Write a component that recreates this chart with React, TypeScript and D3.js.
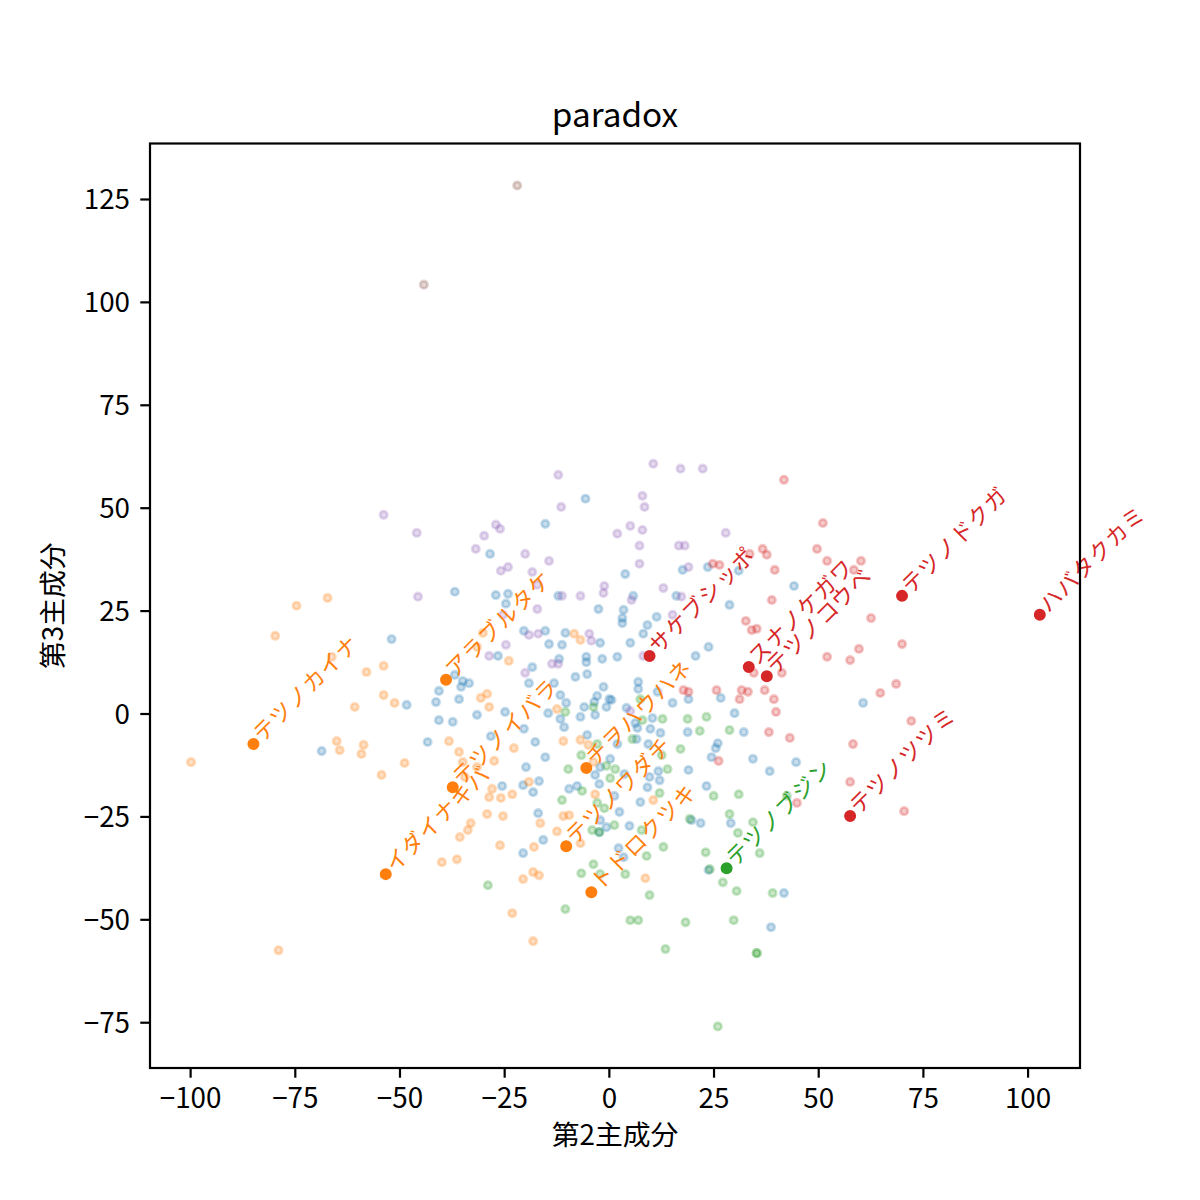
import * as d3 from "d3";

const W = 1200;
const H = 1200;
const FONT = "'Noto Sans CJK JP', 'Noto Sans', sans-serif";

const xTicks = [-100, -75, -50, -25, 0, 25, 50, 75, 100];
const yTicks = [-75, -50, -25, 0, 25, 50, 75, 100, 125];

type Pt = [number, number];

const bluePts: Pt[] = [
    [-28.5, 38.9], [-36.9, 29.7], [-27.1, 28.9], [-24.2, 29.2], [-24.7, 26.8], [-52.0, 18.2],
    [-5.7, 52.3], [-15.3, 46.2], [3.8, 34.0], [17.5, 35.0], [23.5, 35.7], [30.9, 34.8], [44.1, 31.1], [28.7, 26.5],
    [16.0, 28.7], [5.7, 28.7], [-2.6, 25.5], [3.4, 25.3], [3.1, 23.3], [3.1, 22.1], [9.1, 21.6], [11.3, 23.6],
    [8.1, 19.5], [-12.2, 28.7], [-20.4, 20.2], [-15.3, 20.2], [-10.5, 19.7], [-14.4, 17.0], [-11.3, 16.8],
    [-2.2, 17.3], [5.0, 17.3], [23.7, 16.3],
    [-26.6, 14.1], [-36.9, 9.5], [-35.0, 8.0], [-33.5, 7.5], [-35.4, 6.6], [-40.7, 5.6], [-41.4, 2.9], [-35.9, 3.6],
    [-48.4, 2.2], [-40.7, -1.5], [-37.4, -1.9], [-31.6, -0.2], [-24.9, 0.5], [-28.3, -5.4], [-43.4, -6.8],
    [-68.7, -9.0], [-25.6, -17.5],
    [-18.4, 11.4], [-19.2, 7.5], [-12.0, 13.4], [-5.5, 13.9], [-5.5, 12.6], [-1.7, 13.4], [1.9, 13.9], [-8.1, 9.0],
    [-5.3, 9.7], [-13.2, 7.5], [-1.4, 6.6], [-2.9, 4.4], [-3.6, 2.9], [0.0, 3.6], [0.5, 3.4], [6.9, 7.8], [6.9, 6.1],
    [11.5, 5.4], [20.6, 14.1], [-11.7, 4.6], [-10.3, 2.7], [-14.6, 0.2], [-11.7, -1.2], [-10.8, -3.2], [-6.9, -0.7],
    [-6.0, 1.7], [-3.4, -0.2], [-0.7, 1.7], [4.1, 1.5], [6.2, -2.2], [10.3, -1.0], [12.2, -4.6], [9.8, -3.6],
    [6.7, -3.4], [15.1, 2.7], [18.9, 3.6], [26.6, 3.9], [29.9, 0.2], [32.1, -4.4], [18.7, -4.4], [25.9, -7.1],
    [25.4, -8.3], [24.4, -10.5], [18.9, -13.6], [23.2, -17.5], [34.3, -10.9], [38.3, -13.9], [44.6, -11.7],
    [-5.3, -5.1], [1.9, -7.3], [6.5, -6.1], [9.3, -7.3], [0.2, -10.9], [-2.2, -12.9], [-15.3, -10.5], [-17.7, -6.8],
    [-20.4, -3.6], [-19.9, -12.9], [-20.6, -17.3], [-18.2, -19.0], [-16.8, -16.3], [-9.6, -18.2], [-7.7, -17.5],
    [-3.4, -14.8], [-2.4, -17.0], [1.2, -19.9], [3.6, -14.6], [9.6, -15.3], [12.0, -16.1], [11.7, -13.9],
    [9.1, -17.8], [7.4, -21.4], [2.4, -23.8], [4.8, -27.2], [-0.7, -27.5], [-2.2, -25.8], [-2.4, -28.7],
    [-17.0, -24.1], [-15.8, -30.6], [19.6, -25.8], [21.8, -26.5], [29.0, -26.5], [2.2, -32.6],
    [60.6, 2.7],
    [-20.6, -33.8], [3.4, -34.8], [23.7, -37.9], [41.7, -43.5], [38.6, -51.8],
];

const orangePts: Pt[] = [
    [-67.3, 28.2], [-74.7, 26.3], [-79.8, 19.0], [-30.2, 19.7], [-31.6, 16.3], [-8.4, 19.5], [-6.9, 18.0],
    [-66.3, 13.9], [-53.9, 11.7], [-58.0, 10.2], [-53.9, 4.6], [-51.3, 2.7], [-60.8, 1.7], [-65.1, -6.6],
    [-64.4, -8.8], [-58.7, -7.5], [-59.2, -9.7], [-48.9, -11.9], [-54.4, -14.8], [-38.3, -6.6], [-35.9, -9.2],
    [-35.0, -11.7], [-30.7, 3.9], [-29.2, 4.9], [-28.7, 1.7], [-24.0, 12.9], [-22.8, -8.3], [-27.5, -11.4],
    [-31.6, -12.9], [-34.5, -15.3], [-28.0, -18.2], [-28.7, -20.2], [-25.9, -20.4], [-23.2, -19.5],
    [-29.2, -24.3], [-25.4, -24.8], [-33.1, -26.5], [-33.8, -28.2], [-35.7, -29.9], [-26.1, -31.9],
    [-12.5, 1.2], [-11.0, -6.6], [-6.9, -6.3], [-5.0, -7.5], [-3.8, -11.7], [-19.2, -16.5], [-3.4, -19.5],
    [10.5, -20.9], [-11.0, -24.8], [-9.6, -24.6], [-16.5, -26.5], [-12.5, -28.5], [-18.0, -32.3], [-6.9, -31.4],
    [-40.0, -36.0], [-36.4, -35.3], [-23.2, -48.4], [-79.0, -57.4],
    [-18.2, -38.4], [-16.8, -39.2], [-20.6, -40.1], [8.6, -39.9], [-18.2, -55.2],
    [-99.9, -11.7],
];

const greenPts: Pt[] = [
    [-10.5, 0.5], [-2.9, -7.3], [-6.7, -10.0], [-9.8, -13.4], [-0.7, -12.6], [1.4, -13.4], [0.2, -15.6],
    [-2.9, -21.6], [-6.5, -18.7], [-1.2, -22.9], [-11.3, -20.9], [-4.1, -28.2], [-2.4, -28.7], [1.2, -27.0],
    [7.7, -28.2], [12.0, -19.2], [13.9, -13.4], [12.5, -10.0], [12.7, -1.2], [17.0, -8.5], [18.7, -1.2],
    [21.6, -4.1], [23.2, -0.7], [28.7, -3.9], [24.9, -19.9], [30.9, -19.5], [28.7, -24.3], [34.3, -26.3],
    [30.7, -28.9], [42.4, -19.9], [19.2, -25.5], [7.4, 3.6], [12.9, -32.3], [5.5, -6.1], [7.9, -1.5], [-3.8, 1.7],
    [-29.0, -41.6],
    [-3.8, -36.5], [-6.7, -38.7], [-2.2, -38.9], [3.8, -38.9], [8.9, -34.5], [23.0, -33.6], [35.9, -33.8],
    [24.0, -37.7], [27.1, -40.9], [30.4, -43.0], [39.0, -43.5], [-10.5, -47.4], [9.6, -44.0], [5.0, -50.1],
    [6.9, -50.1], [18.2, -50.6], [29.7, -50.1], [13.4, -57.1], [35.2, -58.1], [35.2, -58.1], [25.9, -75.9],
];

const redPts: Pt[] = [
    [41.7, 56.9], [33.5, 38.9], [36.6, 40.1], [37.6, 38.7], [24.7, 36.5], [26.3, 36.2], [39.5, 35.0],
    [38.8, 27.7], [32.6, 22.6], [34.0, 20.4], [35.2, 20.7],
    [51.0, 46.4], [49.6, 40.1], [52.0, 37.2], [60.1, 37.2], [58.4, 35.0], [62.5, 23.3], [59.6, 15.8], [69.9, 17.0],
    [17.7, 5.8], [18.9, 5.4], [25.6, 5.8], [31.6, 5.8], [33.1, 5.4], [37.1, 5.8], [39.3, 3.6], [31.1, 3.6],
    [39.8, 0.5], [38.1, -4.4], [43.1, -5.8], [26.1, -11.4], [41.2, 10.0], [34.5, 10.0],
    [52.0, 13.9], [57.5, 13.1], [68.5, 7.3], [64.7, 5.1], [72.1, -1.7], [58.2, -7.3], [57.5, -16.5],
    [70.4, -23.6], [44.8, -21.6],
];

const purplePts: Pt[] = [
    [-53.9, 48.4], [-46.0, 44.0], [-27.1, 46.0], [-26.1, 45.0], [-29.9, 43.3], [-31.9, 40.1], [-24.2, 35.7],
    [-25.9, 34.8], [-45.7, 28.5], [-25.4, 24.1], [-24.7, 16.8],
    [10.5, 60.8], [17.0, 59.6], [22.3, 59.6], [-12.2, 58.1], [-11.5, 50.3], [7.9, 53.0], [8.4, 50.3],
    [1.9, 43.8], [5.0, 45.7], [7.9, 44.7], [7.2, 40.9], [16.6, 40.9], [18.0, 40.9], [27.8, 44.0], [-20.1, 38.9],
    [-14.4, 37.2], [-18.4, 34.5], [18.9, 35.7], [7.2, 36.5], [-1.2, 31.1], [-1.4, 29.4], [-11.3, 28.7],
    [-6.9, 28.7], [-17.2, 25.5], [5.3, 27.7], [12.9, 30.6], [15.1, 24.1], [17.2, 28.5], [-19.2, 19.2],
    [-17.0, 19.5], [-4.8, 19.5], [-4.3, 17.8],
    [-28.7, 14.1], [-13.7, 12.2], [-12.2, 12.2], [-20.1, 10.0], [8.1, 14.1], [5.0, 0.7], [-17.2, 31.4],
];

const brownPts: Pt[] = [[-22.0, 128.4], [-44.3, 104.3]];

// highlighted (labelled) points
const hlNames = [
    "テツノカイナ", "アラブルタケ", "テツノイバラ", "イダイナキバ", "チヲハウハネ", "テツノワダチ", "トドロクツキ",
    "サケブシッポ", "スナノケガワ", "テツノコウベ", "テツノドクガ", "ハバタクカミ", "テツノツツミ",
    "テツノブジン",
];
const hlX = [-85.0, -39.0, -37.4, -53.4, -5.5, -10.3, -4.3, 9.6, 33.3, 37.6, 69.9, 102.8, 57.5, 28.0];
const hlY = [-7.3, 8.3, -17.8, -38.9, -13.1, -32.1, -43.3, 14.1, 11.4, 9.2, 28.7, 24.1, -24.8, -37.5];
const hlGroup = [1, 1, 1, 1, 1, 1, 1, 3, 3, 3, 3, 3, 3, 2];

const palette = ["#1f77b4", "#ff7f0e", "#2ca02c", "#d62728", "#9467bd", "#8c564b"];
const groups = [bluePts, orangePts, greenPts, redPts, purplePts, brownPts];

const fmt = (v: number) => (v < 0 ? `\u2212${Math.abs(v)}` : `${v}`);

export default function App() {
    const left = 150, right = 1080, top = 143.5, bottom = 1068;
    const x = d3.scaleLinear().domain([-109.7, 112.4]).range([left, right]);
    const y = d3.scaleLinear().domain([-86.0, 138.6]).range([bottom, top]);
    const tick = 9.7;
    const cx = (left + right) / 2;
    const cy = (top + bottom) / 2;

    return (
        <svg width={W} height={H} style={{ position: "absolute", left: 0, top: 0, background: "#fff" }} fontFamily={FONT}>
            <rect width={W} height={H} fill="#fff" />
            <g>
                {groups.map((pts, gi) =>
                    pts.map((p, i) => (
                        <circle
                            key={`${gi}-${i}`}
                            cx={x(p[0])}
                            cy={y(p[1])}
                            r={3.7}
                            fill={palette[gi]}
                            fillOpacity={0.25}
                            stroke={palette[gi]}
                            strokeOpacity={0.25}
                            strokeWidth={2.8}
                        />
                    ))
                )}
            </g>
            <g>
                {hlNames.map((name, i) => {
                    const px = x(hlX[i]);
                    const py = y(hlY[i]);
                    const c = palette[hlGroup[i]];
                    return (
                        <g key={name}>
                            <circle cx={px} cy={py} r={4.7} fill={c} stroke={c} strokeWidth={2.6} />
                            <text
                                transform={`translate(${px + 9},${py - 1}) rotate(-45)`}
                                fontSize={22}
                                letterSpacing={1.2}
                                fill={c}
                            >
                                {name}
                            </text>
                        </g>
                    );
                })}
            </g>
            <rect x={left} y={top} width={right - left} height={bottom - top} fill="none" stroke="#000" strokeWidth={2.2} />
            <g>
                {xTicks.map((t) => (
                    <g key={t} transform={`translate(${x(t)},${bottom})`}>
                        <line y2={tick} stroke="#000" strokeWidth={2.2} />
                        <text y={40} textAnchor="middle" fontSize={27.8} fill="#000">
                            {fmt(t)}
                        </text>
                    </g>
                ))}
            </g>
            <g>
                {yTicks.map((t) => (
                    <g key={t} transform={`translate(${left},${y(t)})`}>
                        <line x2={-tick} stroke="#000" strokeWidth={2.2} />
                        <text x={-20} dy="0.36em" textAnchor="end" fontSize={27.8} fill="#000">
                            {fmt(t)}
                        </text>
                    </g>
                ))}
            </g>
            <text x={cx} y={127} textAnchor="middle" fontSize={33.3} fill="#000">
                paradox
            </text>
            <text x={cx} y={1145} textAnchor="middle" fontSize={27.8} fill="#000">
                第2主成分
            </text>
            <text transform={`translate(63,${cy}) rotate(-90)`} textAnchor="middle" fontSize={27.8} fill="#000">
                第3主成分
            </text>
        </svg>
    );
}
